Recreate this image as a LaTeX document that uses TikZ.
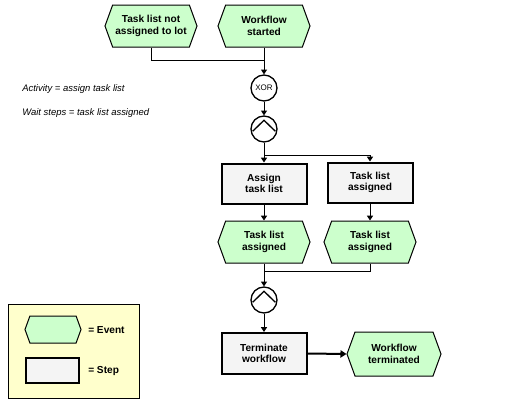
\documentclass[tikz,border=0pt]{standalone}
\usepackage{fontspec}
\setmainfont{Liberation Sans}
\usetikzlibrary{shapes.symbols,arrows.meta}
\definecolor{evgreen}{HTML}{CCFFCC}
\definecolor{stepgrey}{HTML}{F4F4F4}
\definecolor{legyellow}{HTML}{FFFFCC}
\tikzset{
  evbox/.style={signal, signal to=east and west, signal pointer angle=140,
    draw=black, line width=0.75pt, fill=evgreen, inner sep=0pt,
    minimum width=69pt, minimum height=31.5pt, align=center,
    font=\fontsize{7.6}{8.6}\selectfont\bfseries},
  stepbox/.style={rectangle, draw=black, line width=1.5pt, fill=stepgrey,
    inner sep=0pt, minimum width=63.75pt, minimum height=30pt, align=center,
    font=\fontsize{7.6}{8.6}\selectfont\bfseries},
  opbox/.style={circle, draw=black, line width=1pt, fill=white,
    minimum size=19.5pt, inner sep=0pt},
  conn/.style={line width=0.75pt},
  arr/.style={line width=0.75pt, -{Triangle[length=3.6pt,width=4.5pt]}},
  thickarr/.style={line width=1.5pt, -{Triangle[length=4.5pt,width=5.5pt]}},
  note/.style={anchor=west, inner sep=0pt, font=\fontsize{7.1}{8.6}\selectfont\itshape},
  legtext/.style={anchor=west, inner sep=0pt, font=\fontsize{7.6}{8.6}\selectfont\bfseries},
}
\newcommand\andsym[1]{\draw[line width=1pt] ([shift={(-11.3,2.2)}]#1.center) -- ([shift={(0,-8.7)}]#1.center) -- ([shift={(11.3,2.2)}]#1.center);}
\begin{document}
\begin{tikzpicture}[x=0.75pt,y=-0.75pt]
\useasboundingbox (0,0) rectangle (527,407);

% events top
\node[evbox] (e1) at (151,26) {Task list not\\assigned to lot};
\node[evbox] (e2) at (264,26) {Workflow\\started};

% operators
\node[opbox] (xor) at (264,88) {\fontsize{6}{6.5}\selectfont XOR};
\node[opbox] (and1) at (264,129) {};
\andsym{and1}

% steps
\node[stepbox] (s1) at (264,183.5) {Assign\\task list};
\node[stepbox] (s2) at (370,182.5) {Task list\\assigned};

% events middle
\node[evbox] (e3) at (264,242) {Task list\\assigned};
\node[evbox] (e4) at (370,242) {Task list\\assigned};

\node[opbox] (and2) at (264,300) {};
\andsym{and2}

\node[stepbox, minimum height=30.75pt] (s3) at (264,353.5) {Terminate\\workflow};
\node[evbox, minimum width=70.5pt, minimum height=33pt] (e5) at (394,354) {Workflow\\terminated};

% connectors
\coordinate (j1) at (264,60);
\coordinate (j2) at (264,155);
\coordinate (j3) at (264,271);
\draw[conn] (e1.south) |- (j1);
\draw[arr] (e2.south) -- (xor.north);
\draw[arr] (xor.south) -- (and1.north);
\draw[conn] (and1.south) -- (j2);
\draw[arr] (j2) -- (s1.north);
\draw[arr] (j2) -| (s2.north);
\draw[arr] (s1.south) -- (e3.north);
\draw[arr] (s2.south) -- (e4.north);
\draw[conn] (e3.south) -- (j3);
\draw[conn] (e4.south) |- (j3);
\draw[arr] (j3) -- (and2.north);
\draw[arr] (and2.south) -- (s3.north);
\draw[thickarr] (s3.east) -- (e5.west);

% notes
\node[note] (n1) at (22,89) {Activity = assign task list};
\node[note] (n2) at (22,113) {Wait steps = task list assigned};

% legend
\node[draw=black, line width=0.75pt, fill=legyellow, minimum width=98.25pt, minimum height=70.5pt, inner sep=0pt] (leg) at (73.5,351) {};
\node[evbox, minimum width=42pt, minimum height=20.25pt] (le) at (53,329.5) {};
\node[stepbox, minimum width=39.75pt, minimum height=18.75pt] (ls) at (52.5,370.5) {};
\node[legtext] (lt1) at (88,330) {= Event};
\node[legtext] (lt2) at (88,371) {= Step};
\end{tikzpicture}
\end{document}
